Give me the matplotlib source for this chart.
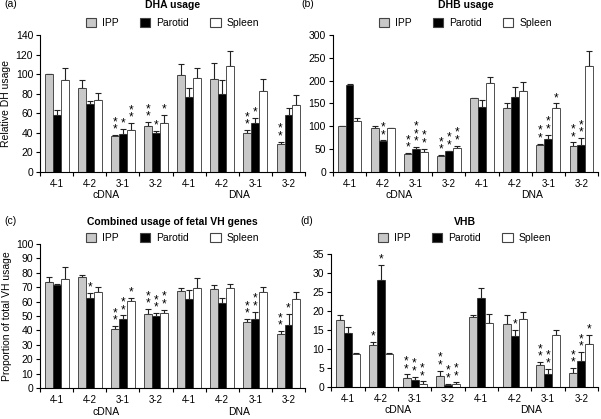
import numpy as np
import matplotlib.pyplot as plt
from matplotlib.patches import Patch
from matplotlib.transforms import blended_transform_factory

groups = ['4-1', '4-2', '3-1', '3-2', '4-1', '4-2', '3-1', '3-2']
series = ['IPP', 'Parotid', 'Spleen']

# (a) DHA usage
dha_ipp = [100, 86, 37, 47, 99, 95, 40, 29]
dha_ipp_err = [0, 8, 1, 4, 11, 16, 3, 2]
dha_par = [58, 69, 39, 40, 77, 80, 50, 58]
dha_par_err = [5, 4, 5, 2, 9, 14, 5, 7]
dha_spl = [94, 74, 43, 50, 96, 108, 83, 68]
dha_spl_err = [12, 7, 7, 8, 10, 16, 12, 11]
dha_stars = [[0, 0, 2, 2, 0, 0, 2, 2],
             [0, 0, 1, 1, 0, 0, 1, 0],
             [0, 0, 2, 1, 0, 0, 0, 0]]

# (b) DHB usage
dhb_ipp = [100, 96, 40, 34, 162, 141, 60, 56]
dhb_ipp_err = [0, 5, 2, 3, 1, 10, 2, 9]
dhb_par = [190, 67, 51, 45, 143, 164, 72, 60]
dhb_par_err = [2, 2, 4, 2, 14, 23, 10, 14]
dhb_spl = [112, 96, 43, 52, 195, 178, 141, 231]
dhb_spl_err = [7, 0, 8, 6, 12, 18, 9, 33]
dhb_stars = [[0, 0, 2, 2, 0, 0, 2, 2],
             [0, 2, 3, 2, 0, 0, 2, 2],
             [0, 0, 2, 2, 0, 0, 1, 0]]

# (c) combined fetal VH
vh_ipp = [73.5, 77, 41, 51.5, 67.5, 68.5, 45.5, 37.5]
vh_ipp_err = [3.5, 1.5, 2, 3.5, 2, 3, 2.5, 2]
vh_par = [71.5, 62.5, 48, 50, 62, 59, 48, 43.5]
vh_par_err = [1, 3.5, 2.5, 2, 6, 3.5, 5, 8]
vh_spl = [76, 67, 60.5, 52, 69.5, 69.5, 67, 62]
vh_spl_err = [8, 3, 2, 2.5, 7, 2.5, 3, 5]
vh_stars = [[0, 0, 2, 2, 0, 0, 2, 2],
            [0, 1, 2, 2, 0, 0, 2, 1],
            [0, 0, 1, 2, 0, 0, 0, 0]]

# (d) VHB
vhb_ipp = [17.7, 11, 2.3, 3, 18.4, 16.6, 5.8, 3.8]
vhb_ipp_err = [1.2, 0.8, 1, 1.3, 0.6, 2.3, 0.8, 1.2]
vhb_par = [14.2, 28.2, 1.9, 0.6, 23.3, 13.4, 3.5, 6.8]
vhb_par_err = [1.6, 4, 0.8, 0.3, 2.8, 1.6, 1.3, 2.4]
vhb_spl = [8.7, 8.6, 0.7, 0.9, 16.8, 18, 13.6, 11.3]
vhb_spl_err = [0.2, 0.3, 0.8, 0.5, 2.3, 1.6, 1.3, 2.4]
vhb_stars = [[0, 1, 2, 2, 0, 0, 2, 2],
             [0, 1, 2, 2, 0, 1, 2, 2],
             [0, 0, 2, 2, 0, 0, 0, 1]]

colors = ['#c8c8c8', 'black', 'white']
plt.rcParams['font.family'] = 'Liberation Sans'


def panel(fig, rect, vals, errs, stars, ymax, ystep, title, letter, ylabel,
          title_y, leg_y):
    ax = fig.add_axes(rect)
    x = np.arange(len(groups))
    w = 0.24
    for k in range(3):
        pos = x + (k - 1) * w
        ax.bar(pos, vals[k], w, color=colors[k], edgecolor='#333333',
               linewidth=0.6, zorder=2)
        ax.errorbar(pos, vals[k], yerr=[np.zeros(len(groups)), errs[k]],
                    fmt='none', ecolor='#222222', elinewidth=0.8,
                    capsize=2.2, capthick=0.8, zorder=1)
        for i, n in enumerate(stars[k]):
            if n:
                ax.text(pos[i], vals[k][i] + errs[k][i] - ymax * 0.005,
                        '\n'.join(['*'] * n), ha='center', va='bottom',
                        fontsize=8.5, linespacing=0.5)
    ax.set_xlim(-0.5, 7.5)
    ax.set_ylim(0, ymax)
    ax.set_yticks(np.arange(0, ymax + 0.1, ystep))
    ax.set_xticks(x)
    ax.set_xticklabels(groups)
    ax.set_xticks(np.arange(-0.5, 8, 1), minor=True)
    ax.tick_params(axis='x', which='major', length=0, labelsize=7, pad=5)
    ax.tick_params(axis='x', which='minor', length=3, width=0.8)
    ax.tick_params(axis='y', length=3, width=0.8, labelsize=7.5, pad=2)
    for s in ['top', 'right']:
        ax.spines[s].set_visible(False)
    for s in ['left', 'bottom']:
        ax.spines[s].set_linewidth(0.8)
    tr = blended_transform_factory(ax.transData, ax.transAxes)
    ax.text(1.5, -0.17, 'cDNA', transform=tr, ha='center', va='center', fontsize=7.5)
    ax.text(5.5, -0.17, 'DNA', transform=tr, ha='center', va='center', fontsize=7.5)
    if ylabel:
        ax.set_ylabel(ylabel, fontsize=7.5, labelpad=3)
    cx = rect[0] + rect[2] * 0.5
    fig.text(cx, title_y, title, ha='center', va='center', fontsize=7.5,
             fontweight='bold')
    fig.text(rect[0] - 0.06 if rect[0] < 0.3 else rect[0] - 0.052,
             title_y + 0.002, letter, ha='left', va='center', fontsize=7.5)
    handles = [Patch(facecolor=colors[k], edgecolor='#444444', linewidth=0.8)
               for k in range(3)]
    fig.legend(handles, series, loc='center', bbox_to_anchor=(cx, leg_y),
               ncol=3, frameon=False, fontsize=7.5, handlelength=1.0,
               handleheight=1.0, columnspacing=2.0, handletextpad=0.6)
    return ax


fig = plt.figure(figsize=(6.01, 4.19), dpi=100)

panel(fig, [0.0666, 0.5895, 0.441, 0.327],
      [dha_ipp, dha_par, dha_spl], [dha_ipp_err, dha_par_err, dha_spl_err],
      dha_stars, 140, 20, 'DHA usage', '(a)', 'Relative DH usage',
      1 - 5 / 419, 1 - 23 / 419)
panel(fig, [0.554, 0.5895, 0.441, 0.327],
      [dhb_ipp, dhb_par, dhb_spl], [dhb_ipp_err, dhb_par_err, dhb_spl_err],
      dhb_stars, 300, 50, 'DHB usage', '(b)', None,
      1 - 5 / 419, 1 - 23 / 419)
panel(fig, [0.0666, 0.074, 0.441, 0.3437],
      [vh_ipp, vh_par, vh_spl], [vh_ipp_err, vh_par_err, vh_spl_err],
      vh_stars, 100, 10, 'Combined usage of fetal VH genes', '(c)',
      'Proportion of total VH usage', 1 - 222 / 419, 1 - 238 / 419)
panel(fig, [0.551, 0.0764, 0.444, 0.3176],
      [vhb_ipp, vhb_par, vhb_spl], [vhb_ipp_err, vhb_par_err, vhb_spl_err],
      vhb_stars, 35, 5, 'VHB', '(d)', None, 1 - 222 / 419, 1 - 238 / 419)

fig.savefig('out.png', dpi=100)
